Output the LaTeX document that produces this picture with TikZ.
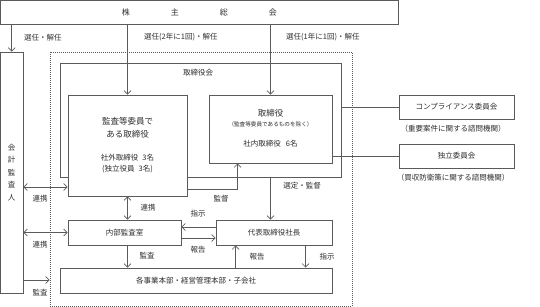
\documentclass[tikz,border=0pt]{standalone}
\usepackage{fontspec}
\newfontfamily\jp{Noto Sans CJK JP}
\usetikzlibrary{arrows.meta,calc}
\definecolor{ln}{HTML}{5A5A5A}
\definecolor{tx}{HTML}{2E2E2E}
\tikzset{
  box/.style={draw=ln, line width=0.8pt, fill=white, inner sep=0pt, text=tx, align=center},
  lbl/.style={inner sep=0pt, text=tx, font=\jp\fontsize{7.5}{9}\selectfont},
  con/.style={draw=ln, line width=0.7pt},
  arr/.style={con, -{Straight Barb[length=3.5pt,width=7pt]}},
  dbl/.style={con, {Straight Barb[length=3.5pt,width=7pt]}-{Straight Barb[length=3.5pt,width=7pt]}}
}
\begin{document}
\begin{tikzpicture}[x=1pt,y=-1pt, font=\jp\fontsize{7.5}{9}\selectfont]
\useasboundingbox (0,0) rectangle (540,307);
% frame and boxes
\node[draw=ln, line width=0.8pt, dash pattern=on 1pt off 1pt, minimum width=302pt, minimum height=254pt, inner sep=0pt] (frame) at (201,179) {};
\node[box, minimum width=398pt, minimum height=24pt, font=\jp\fontsize{8}{9}\selectfont] (gm) at (199.4,12.2) {株\hspace{41pt}主\hspace{41pt}総\hspace{41pt}会};
\node[box, minimum width=22.5pt, minimum height=241pt, font=\jp\fontsize{7.5}{12.5}\selectfont] (kaikei) at (11.75,172.5) {会\\計\\監\\査\\人};
\node[box, minimum width=281pt, minimum height=114pt] (board) at (200.5,120) {};
\node[lbl, anchor=west] (boardlbl) at (183,73) {取締役会};
\node[box, minimum width=119pt, minimum height=101pt] (audit) at (127.5,145.5) {};
\node[lbl, align=center, font=\jp\fontsize{8.5}{13}\selectfont] (audittx) at (127.5,128) {監査等委員で\\ある取締役};
\node[lbl, align=center, font=\jp\fontsize{7.5}{10.5}\selectfont] (audittx2) at (127.5,163.5) {社外取締役\hspace{4pt}3名\\(独立役員\hspace{4pt}3名)};
\node[box, minimum width=123pt, minimum height=68pt] (dir) at (270.5,129) {};
\node[lbl, font=\jp\fontsize{8.5}{10}\selectfont] (dirtx1) at (270.5,113) {取締役};
\node[lbl, font=\jp\fontsize{5.6}{7}\selectfont] (dirtx2) at (270.5,124.5) {（監査等委員であるものを除く）};
\node[lbl] (dirtx3) at (270.5,144) {社内取締役\hspace{5pt}6名};
\node[box, minimum width=115pt, minimum height=24pt] (comp) at (456.5,107) {コンプライアンス委員会};
\node[lbl] (compcap) at (453,129) {（重要案件に関する諮問機関）};
\node[box, minimum width=115pt, minimum height=24pt] (indep) at (456.5,156) {独立委員会};
\node[lbl] (indepcap) at (453,178) {（買収防衛策に関する諮問機関）};
\node[box, minimum width=113pt, minimum height=25pt] (naibu) at (124.5,232.5) {内部監査室};
\node[box, minimum width=116pt, minimum height=25pt] (ceo) at (274,232.5) {代表取締役社長};
\node[box, minimum width=272pt, minimum height=25pt] (dept) at (196,280.5) {各事業本部・経営管理本部・子会社};
% connectors from general meeting
\draw[arr] (gm.south -| kaikei.north) -- (kaikei.north);
\node[lbl, anchor=west] (l1) at (24,37.5) {選任・解任};
\draw[arr] (gm.south -| audit.north) -- (audit.north);
\node[lbl, anchor=west] (l2) at (144,37.5) {選任(2年に1回)・解任};
\draw[arr] (gm.south -| dir.north) -- (dir.north);
\node[lbl, anchor=west] (l3) at (286,37.5) {選任(1年に1回)・解任};
% committees
\draw[con] (comp.west -| board.east) -- (comp.west);
\draw[con] (indep.west -| dir.east) -- (indep.west);
% auditor links
\draw[dbl] (kaikei.east |- 0,187) -- (audit.west |- 0,187);
\node[lbl] (r1) at (40,199) {連携};
\draw[dbl] (kaikei.east |- naibu.west) -- (naibu.west);
\node[lbl] (r2) at (40,245) {連携};
\draw[arr] (kaikei.east |- 0,280) -- (frame.west |- 0,280);
\node[lbl] (r3) at (40,293) {監査};
% audit committee links
\draw[dbl] (audit.south) -- (audit.south |- naibu.north);
\node[lbl] (r4) at (148,208) {連携};
\coordinate (sup) at ($(dir.south west)+(29,0)$);
\draw[arr] (audit.east |- 0,189) -| (sup);
\node[lbl] (r5) at (221,199) {監督};
\draw[arr] (board.south -| dir.south) -- (ceo.north -| dir.south);
\node[lbl] (r6) at (302,186) {選定・監督};
% ceo and internal audit
\draw[arr] (ceo.west |- 0,227) -- (naibu.east |- 0,227);
\node[lbl] (r7) at (198,214) {指示};
\draw[arr] (naibu.east |- 0,238) -- (ceo.west |- 0,238);
\node[lbl] (r8) at (198,250) {報告};
\draw[arr] (naibu.south -| audit.south) -- (dept.north -| audit.south);
\node[lbl] (r9) at (147,256) {監査};
\coordinate (rep) at ($(ceo.south west)+(20,0)$);
\draw[arr] (dept.north -| rep) -- (rep);
\node[lbl] (r10) at (257,257) {報告};
\coordinate (ins) at ($(ceo.south west)+(90,0)$);
\draw[arr] (ins) -- (dept.north -| ins);
\node[lbl] (r11) at (327,257) {指示};
\end{tikzpicture}
\end{document}
